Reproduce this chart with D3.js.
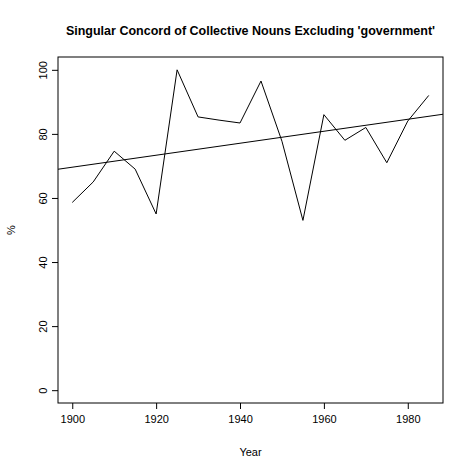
<!DOCTYPE html>
<html><head><meta charset="utf-8">
<script src="https://cdn.jsdelivr.net/npm/d3@7"></script>
<style>body{margin:0;background:#fff}</style>
</head><body>
<div id="chart"></div>
<script>
const years = [1900,1905,1910,1915,1920,1925,1930,1935,1940,1945,1950,1955,1960,1965,1970,1975,1980,1985];
const pct = [58.6,65,74.6,69,55,100,85.3,84.3,83.4,96.5,77.7,53,86,78,82,71,84,92];
const fitIntercept1900 = 69.6, fitSlope = 0.187;
const xTicks = [1900,1920,1940,1960,1980];
const yTicks = [0,20,40,60,80,100];

const W = 472, H = 472;
const m = {left: 58, right: 29, top: 57, bottom: 69};
const svg = d3.select("#chart").append("svg").attr("width", W).attr("height", H)
  .style("font-family", "Liberation Sans, Arial, sans-serif");

const x = d3.scaleLinear().domain([1896.6, 1988.4]).range([m.left, W - m.right]);
const y = d3.scaleLinear().domain([-4, 104]).range([H - m.bottom, m.top]);

svg.append("clipPath").attr("id", "c").append("rect")
  .attr("x", m.left).attr("y", m.top).attr("width", W - m.left - m.right).attr("height", H - m.top - m.bottom);

svg.append("rect").attr("x", m.left).attr("y", m.top)
  .attr("width", W - m.left - m.right).attr("height", H - m.top - m.bottom)
  .attr("fill", "none").attr("stroke", "#000");

const xa = svg.append("g").attr("transform", `translate(0,${H - m.bottom})`)
  .call(d3.axisBottom(x).tickValues(xTicks).tickFormat(d3.format("d")).tickSize(6).tickPadding(6));
const ya = svg.append("g").attr("transform", `translate(${m.left},0)`)
  .call(d3.axisLeft(y).tickValues(yTicks).tickSize(6));
ya.selectAll(".tick text").attr("x", 0).attr("y", 0).attr("dy", "0")
  .attr("transform", "translate(-11,0) rotate(-90)").style("text-anchor", "middle");
[xa, ya].forEach(a => { a.select(".domain").remove(); a.selectAll("text").style("font-size", "11px").attr("fill", "#000"); });

svg.append("path").datum(years.map((d, i) => [d, pct[i]]))
  .attr("fill", "none").attr("stroke", "#000")
  .attr("d", d3.line().x(d => x(d[0])).y(d => y(d[1])));

const fit = yr => fitIntercept1900 + fitSlope * (yr - 1900);
svg.append("line").attr("clip-path", "url(#c)")
  .attr("x1", x(1890)).attr("y1", y(fit(1890)))
  .attr("x2", x(1995)).attr("y2", y(fit(1995)))
  .attr("stroke", "#000");

svg.append("text").attr("x", (m.left + W - m.right) / 2).attr("y", 35)
  .attr("text-anchor", "middle").style("font-size", "12.5px").style("font-weight", "bold")
  .text("Singular Concord of Collective Nouns Excluding 'government'");
svg.append("text").attr("x", (m.left + W - m.right) / 2).attr("y", 456)
  .attr("text-anchor", "middle").style("font-size", "11px").text("Year");
svg.append("text").attr("transform", `translate(15,${(m.top + H - m.bottom) / 2}) rotate(-90)`)
  .attr("text-anchor", "middle").style("font-size", "11px").text("%");
</script>
</body></html>
